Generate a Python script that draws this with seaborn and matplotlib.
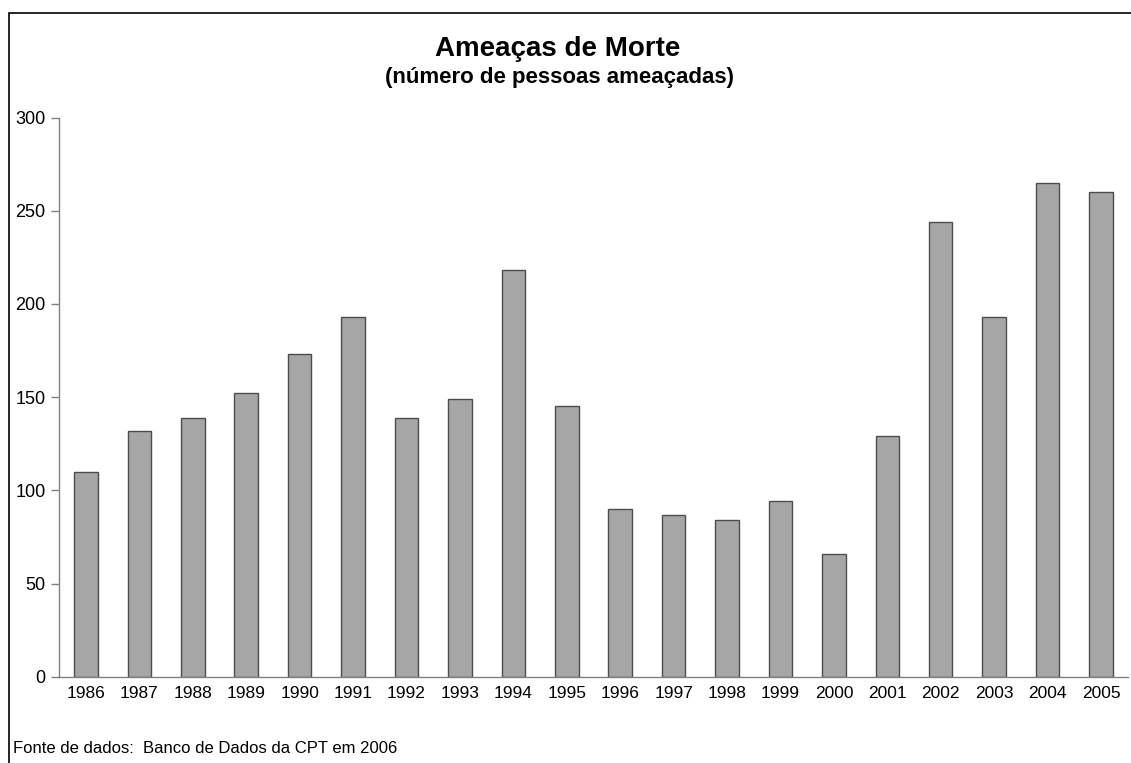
import matplotlib
matplotlib.use("Agg")
import matplotlib.pyplot as plt
import seaborn as sns
import pandas as pd
import numpy as np
from matplotlib.patches import Rectangle

years = ["1986", "1987", "1988", "1989", "1990", "1991", "1992", "1993", "1994", "1995",
         "1996", "1997", "1998", "1999", "2000", "2001", "2002", "2003", "2004", "2005"]
threatened = [110, 132, 139, 152, 173, 193, 139, 149, 218, 145,
              90, 87, 84, 94, 66, 129, 244, 193, 265, 260]
y_ticks = [0, 50, 100, 150, 200, 250, 300]

sns.set_theme(style="white")
plt.rcParams['font.family'] = ['Liberation Sans', 'DejaVu Sans']
plt.rcParams['text.color'] = 'black'

df = pd.DataFrame({"ano": years, "pessoas": threatened})

fig = plt.figure(figsize=(11.31, 7.63), dpi=100)
ax = fig.add_axes([0.0524, 0.1131, 0.9447, 0.7329])

sns.barplot(data=df, x="ano", y="pessoas", ax=ax, color="#a6a6a6",
            saturation=1, width=0.44, edgecolor="#4d4d4d", linewidth=1.0)

ax.set_ylim(0, 300)
ax.set_xlim(-0.5, len(years) - 0.5)
ax.set_yticks(y_ticks)
ax.set_yticklabels([str(v) for v in y_ticks], fontsize=13, color="black")
ax.set_xlabel("")
ax.set_ylabel("")
ax.tick_params(axis="x", which="major", length=0, labelsize=12.5, pad=7, labelcolor="black")
ax.set_xticks(np.arange(-0.5, len(years), 1), minor=True)
ax.tick_params(axis="x", which="minor", length=5, width=1, color="#808080", direction="out")
ax.tick_params(axis="y", which="major", length=6, width=1, color="#808080", direction="out",
               left=True, pad=4)

for side in ["top", "right"]:
    ax.spines[side].set_visible(False)
for side in ["left", "bottom"]:
    ax.spines[side].set_color("#808080")
    ax.spines[side].set_linewidth(1.0)

fig.text(0.4935, 0.936, "Ameaças de Morte", ha="center", va="center",
         fontsize=20, fontweight="bold", color="black")
fig.text(0.4945, 0.898, "(número de pessoas ameaçadas)", ha="center", va="center",
         fontsize=16, fontweight="bold", color="black")
fig.text(0.0115, 0.019, "Fonte de dados:  Banco de Dados da CPT em 2006", ha="left",
         va="center", fontsize=12, color="black")

fig.patches.append(Rectangle((0.008, -0.1), 1.1, 0.1 + 0.983, transform=fig.transFigure,
                             fill=False, edgecolor="black", linewidth=1.2, figure=fig))

fig.savefig("out.png", dpi=100)
